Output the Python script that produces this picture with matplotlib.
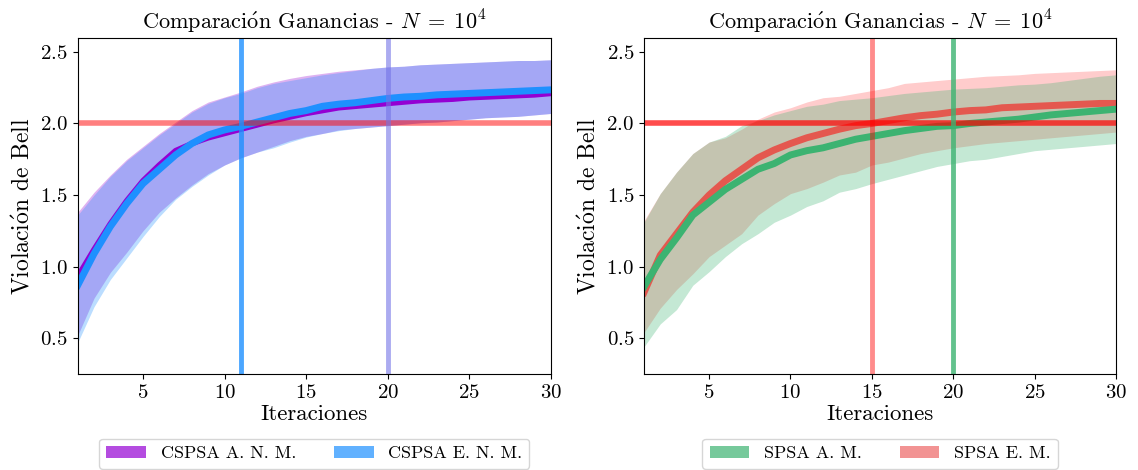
import matplotlib
matplotlib.use("Agg")
import matplotlib.pyplot as plt
from matplotlib.patches import Patch
import numpy as np

plt.rcParams['font.family'] = ['cmr10', 'DejaVu Serif']
plt.rcParams['mathtext.fontset'] = 'cm'
plt.rcParams['axes.formatter.use_mathtext'] = True

# Iterations
iters = np.arange(1, 31)

# --- CSPSA (left panel) ---
cspsa_anm_mean = [0.93, 1.12, 1.30, 1.46, 1.60, 1.71, 1.81, 1.86, 1.90, 1.93,
                  1.96, 1.99, 2.02, 2.045, 2.07, 2.09, 2.11, 2.12, 2.13, 2.14,
                  2.15, 2.16, 2.165, 2.17, 2.18, 2.185, 2.19, 2.195, 2.20, 2.21]
cspsa_anm_low = [0.52, 0.78, 0.96, 1.10, 1.25, 1.38, 1.48, 1.57, 1.65, 1.71,
                 1.76, 1.80, 1.84, 1.88, 1.91, 1.93, 1.955, 1.965, 1.975, 1.985,
                 1.995, 2.005, 2.01, 2.02, 2.03, 2.04, 2.045, 2.05, 2.06, 2.07]
cspsa_anm_high = [1.38, 1.52, 1.64, 1.75, 1.84, 1.93, 2.01, 2.09, 2.15, 2.185,
                  2.22, 2.26, 2.29, 2.315, 2.335, 2.35, 2.365, 2.375, 2.385, 2.395,
                  2.40, 2.41, 2.415, 2.42, 2.425, 2.43, 2.435, 2.44, 2.44, 2.445]

cspsa_enm_mean = [0.87, 1.09, 1.28, 1.44, 1.58, 1.68, 1.78, 1.86, 1.92, 1.955,
                  1.98, 2.01, 2.04, 2.07, 2.09, 2.12, 2.135, 2.145, 2.16, 2.175,
                  2.185, 2.19, 2.20, 2.205, 2.21, 2.215, 2.22, 2.225, 2.23, 2.235]
cspsa_enm_low = [0.47, 0.72, 0.91, 1.06, 1.21, 1.35, 1.47, 1.56, 1.64, 1.71,
                 1.76, 1.80, 1.83, 1.87, 1.905, 1.93, 1.95, 1.965, 1.975, 1.985,
                 1.995, 2.005, 2.01, 2.02, 2.03, 2.04, 2.045, 2.05, 2.06, 2.07]
cspsa_enm_high = [1.36, 1.50, 1.63, 1.74, 1.83, 1.92, 2.00, 2.08, 2.14, 2.18,
                  2.21, 2.25, 2.28, 2.30, 2.32, 2.34, 2.355, 2.37, 2.385, 2.395,
                  2.40, 2.41, 2.415, 2.42, 2.425, 2.43, 2.435, 2.44, 2.44, 2.445]

# --- SPSA (right panel) ---
spsa_am_mean = [0.86, 1.05, 1.20, 1.36, 1.45, 1.54, 1.61, 1.68, 1.72, 1.78,
                1.81, 1.83, 1.86, 1.89, 1.91, 1.93, 1.95, 1.965, 1.98, 1.985,
                2.00, 2.01, 2.02, 2.03, 2.045, 2.06, 2.07, 2.08, 2.09, 2.10]
spsa_am_low = [0.44, 0.60, 0.70, 0.87, 0.965, 1.07, 1.16, 1.23, 1.31, 1.36,
               1.42, 1.46, 1.52, 1.545, 1.58, 1.61, 1.64, 1.67, 1.70, 1.72,
               1.74, 1.75, 1.77, 1.79, 1.81, 1.82, 1.83, 1.84, 1.85, 1.86]
spsa_am_high = [1.31, 1.51, 1.66, 1.79, 1.87, 1.91, 1.985, 2.02, 2.06, 2.09,
                2.12, 2.135, 2.16, 2.17, 2.18, 2.195, 2.21, 2.22, 2.23, 2.24,
                2.245, 2.25, 2.26, 2.27, 2.275, 2.285, 2.30, 2.315, 2.33, 2.34]

spsa_em_mean = [0.82, 1.08, 1.23, 1.38, 1.50, 1.60, 1.68, 1.76, 1.815, 1.86,
                1.90, 1.93, 1.96, 1.985, 2.00, 2.02, 2.04, 2.055, 2.065, 2.08,
                2.09, 2.095, 2.11, 2.115, 2.12, 2.125, 2.13, 2.135, 2.14, 2.14]
spsa_em_low = [0.54, 0.71, 0.84, 0.95, 1.07, 1.15, 1.23, 1.36, 1.44, 1.51,
               1.545, 1.59, 1.64, 1.66, 1.71, 1.73, 1.76, 1.79, 1.81, 1.83,
               1.845, 1.86, 1.87, 1.88, 1.89, 1.90, 1.91, 1.92, 1.93, 1.94]
spsa_em_high = [1.32, 1.51, 1.66, 1.79, 1.87, 1.90, 1.96, 2.03, 2.08, 2.11,
                2.15, 2.18, 2.19, 2.21, 2.23, 2.25, 2.28, 2.29, 2.30, 2.31,
                2.32, 2.33, 2.335, 2.34, 2.35, 2.355, 2.36, 2.365, 2.37, 2.375]

bell_limit = 2.0
left_marks = [11, 20]
right_marks = [15, 20]

o_acute = r'$\acute{\mathrm{o}}$'
title = 'Comparaci' + o_acute + r'n Ganancias - $N \;=\; 10^4$'
ylabel = 'Violaci' + o_acute + 'n de Bell'

fig = plt.figure(figsize=(11.38, 4.70), dpi=100)
ax1 = fig.add_axes([0.0683, 0.2043, 0.4157, 0.7157])
ax2 = fig.add_axes([0.5659, 0.2043, 0.4148, 0.7157])

# Left: CSPSA
ax1.fill_between(iters, cspsa_anm_low, cspsa_anm_high, color='darkviolet', alpha=0.3, lw=0)
ax1.fill_between(iters, cspsa_enm_low, cspsa_enm_high, color='dodgerblue', alpha=0.3, lw=0)
ax1.plot(iters, cspsa_anm_mean, color='darkviolet', lw=4)
ax1.plot(iters, cspsa_enm_mean, color='dodgerblue', lw=5)
ax1.axhline(bell_limit, color='red', alpha=0.5, lw=4)
ax1.axvline(left_marks[0], color='dodgerblue', alpha=0.8, lw=3.5)
ax1.axvline(left_marks[1], color='#7373e6', alpha=0.6, lw=3.5)

# Right: SPSA
ax2.fill_between(iters, spsa_em_low, spsa_em_high, color='red', alpha=0.2, lw=0)
ax2.fill_between(iters, spsa_am_low, spsa_am_high, color='mediumseagreen', alpha=0.3, lw=0)
ax2.plot(iters, spsa_em_mean, color='red', alpha=0.55, lw=5)
ax2.plot(iters, spsa_am_mean, color='mediumseagreen', lw=5)
ax2.axhline(bell_limit, color='red', alpha=0.7, lw=4)
ax2.axvline(right_marks[0], color='red', alpha=0.45, lw=3.5)
ax2.axvline(right_marks[1], color='mediumseagreen', alpha=0.8, lw=3.5)

for ax in (ax1, ax2):
    ax.set_xlim(1, 30)
    ax.set_ylim(0.25, 2.6)
    ax.set_xticks([5, 10, 15, 20, 25, 30])
    ax.set_yticks([0.5, 1.0, 1.5, 2.0, 2.5])
    ax.tick_params(labelsize=15)
    ax.set_title(title, fontsize=16)
    ax.set_xlabel('Iteraciones', fontsize=16.5, labelpad=2)
    ax.set_ylabel(ylabel, fontsize=17)

h1 = [Patch(facecolor='darkviolet', alpha=0.7, label='CSPSA A. N. M.'),
      Patch(facecolor='dodgerblue', alpha=0.7, label='CSPSA E. N. M.')]
h2 = [Patch(facecolor='mediumseagreen', alpha=0.7, label='SPSA A. M.'),
      Patch(facecolor='#f08080', alpha=0.85, label='SPSA E. M.')]
ax1.legend(handles=h1, loc='upper center', bbox_to_anchor=(0.5, -0.165), ncol=2,
           fontsize=13, handlelength=2.2, columnspacing=2.1)
ax2.legend(handles=h2, loc='upper center', bbox_to_anchor=(0.5, -0.165), ncol=2,
           fontsize=13, handlelength=2.2, columnspacing=2.1)

fig.savefig('out.png', dpi=100)
